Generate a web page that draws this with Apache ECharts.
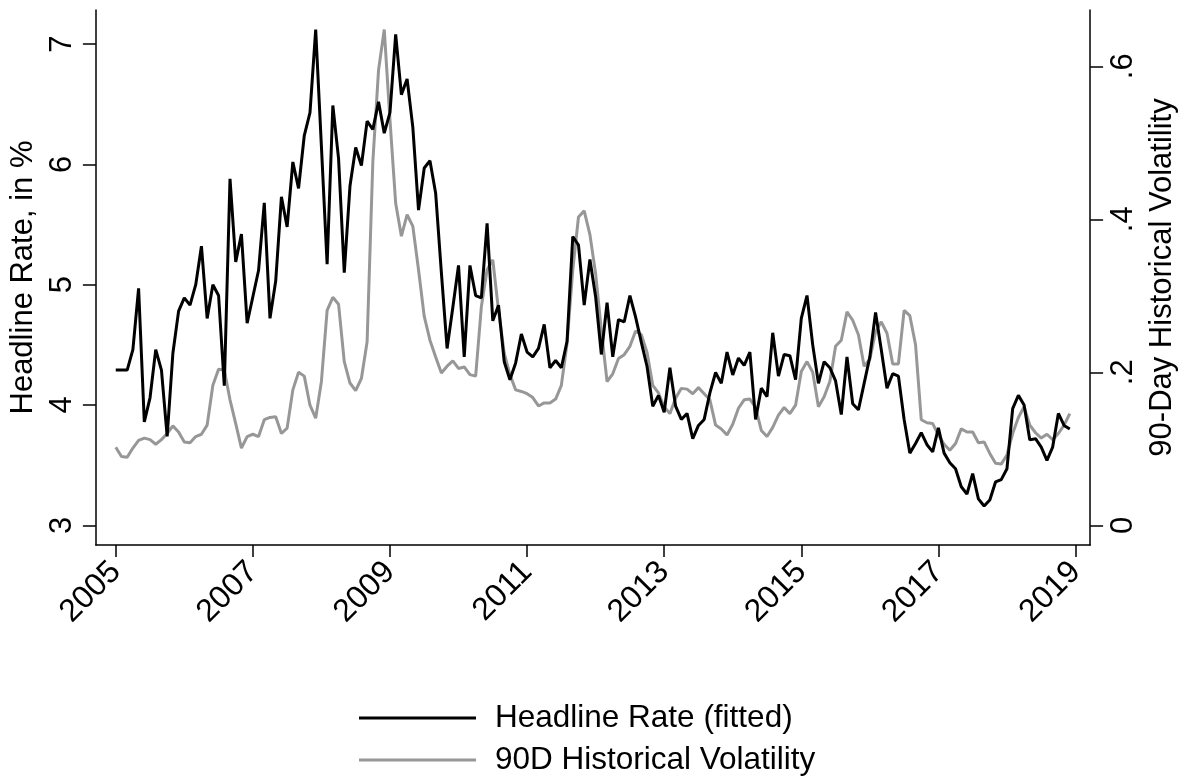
<!DOCTYPE html>
<html>
<head>
<meta charset="utf-8">
<script src="https://cdn.jsdelivr.net/npm/echarts@6/dist/echarts.min.js"></script>
<style>
html,body{margin:0;padding:0;background:#fff;}
#chart{width:1186px;height:777px;}
</style>
</head>
<body>
<div id="chart"></div>
<script>
// Monthly observations, Jan 2005 .. Dec 2018
var startYear = 2005;
var seriesNames = ['Headline Rate (fitted)', '90D Historical Volatility'];
var headlineRate = [
  4.29,4.29,4.29,4.46,4.97,3.86,4.06,4.46,4.29,3.74,4.43,4.78,
  4.89,4.83,5.00,5.32,4.72,5.00,4.91,4.16,5.88,5.19,5.42,4.68,
  4.90,5.12,5.68,4.72,5.03,5.73,5.48,6.02,5.80,6.24,6.43,7.12,
  6.15,5.17,6.49,6.05,5.10,5.82,6.14,5.99,6.36,6.29,6.52,6.26,
  6.43,7.08,6.58,6.71,6.31,5.62,5.97,6.03,5.76,5.10,4.47,4.81,
  5.16,4.40,5.16,4.91,4.89,5.51,4.70,4.83,4.36,4.21,4.35,4.59,
  4.44,4.40,4.47,4.67,4.31,4.37,4.31,4.53,5.40,5.33,4.83,5.21,
  4.90,4.42,4.85,4.40,4.71,4.69,4.91,4.73,4.52,4.32,3.99,4.08,
  3.94,4.31,3.99,3.88,3.93,3.72,3.83,3.88,4.10,4.27,4.18,4.44,
  4.25,4.39,4.33,4.44,3.88,4.14,4.07,4.60,4.24,4.42,4.41,4.21,
  4.72,4.91,4.50,4.18,4.36,4.31,4.20,3.92,4.40,4.01,3.96,4.18,
  4.40,4.77,4.46,4.14,4.26,4.24,3.88,3.60,3.68,3.77,3.67,3.61,
  3.81,3.60,3.52,3.47,3.32,3.26,3.43,3.22,3.16,3.21,3.36,3.38,
  3.47,3.97,4.08,4.00,3.71,3.72,3.65,3.54,3.65,3.93,3.83,3.80
];
var histVol90 = [
  0.102,0.090,0.089,0.101,0.111,0.114,0.112,0.106,0.112,0.120,0.130,0.122,
  0.109,0.108,0.116,0.119,0.131,0.183,0.204,0.203,0.164,0.133,0.101,0.116,
  0.119,0.116,0.138,0.141,0.142,0.120,0.127,0.177,0.200,0.195,0.157,0.140,
  0.188,0.281,0.298,0.289,0.214,0.186,0.176,0.192,0.240,0.475,0.595,0.648,
  0.530,0.421,0.378,0.406,0.391,0.334,0.273,0.242,0.220,0.199,0.208,0.215,
  0.205,0.207,0.197,0.195,0.286,0.334,0.347,0.281,0.225,0.197,0.177,0.175,
  0.172,0.167,0.156,0.160,0.160,0.165,0.183,0.238,0.334,0.403,0.411,0.380,
  0.329,0.255,0.188,0.198,0.218,0.223,0.234,0.254,0.249,0.226,0.183,0.173,
  0.155,0.146,0.166,0.179,0.178,0.172,0.180,0.172,0.164,0.131,0.126,0.118,
  0.132,0.153,0.164,0.165,0.154,0.124,0.116,0.128,0.144,0.154,0.146,0.157,
  0.201,0.214,0.200,0.155,0.168,0.188,0.234,0.242,0.279,0.268,0.249,0.208,
  0.217,0.253,0.266,0.251,0.211,0.211,0.281,0.274,0.236,0.138,0.134,0.133,
  0.118,0.106,0.098,0.107,0.126,0.122,0.122,0.108,0.109,0.094,0.081,0.080,
  0.092,0.120,0.141,0.155,0.131,0.121,0.114,0.119,0.112,0.120,0.131,0.146
];
var xTicks = [2005, 2007, 2009, 2011, 2013, 2015, 2017, 2019];
var leftTicks = [3, 4, 5, 6, 7];
var rightTicks = [0, 0.2, 0.4, 0.6];

function monthX(i) { return startYear + i / 12; }
var headData = headlineRate.map(function (v, i) { return [monthX(i), v]; });
var volData = histVol90.map(function (v, i) { return [monthX(i), v]; });

var FONT = "'Liberation Sans', Arial, Helvetica, sans-serif";
var axisLineStyle = { color: '#000', width: 1.5 };
var BLACK = '#000000';
var GRAY = '#979797';

function legendFor(name, top) {
  return {
    data: [name],
    orient: 'vertical',
    left: 359,
    top: top,
    padding: 0,
    icon: 'rect',
    itemWidth: 117,
    itemHeight: 3,
    itemGap: 0,
    selectedMode: false,
    textStyle: { fontFamily: FONT, fontSize: 31.5, color: '#000', lineHeight: 31, padding: [0, 0, 0, 14] }
  };
}

var chart = echarts.init(document.getElementById('chart'), null, { renderer: 'canvas' });
chart.setOption({
  animation: false,
  backgroundColor: '#fff',
  textStyle: { fontFamily: FONT },
  grid: { left: 95, right: 89, top: 10, bottom: 232, containLabel: false },
  legend: [legendFor(seriesNames[0], 702), legendFor(seriesNames[1], 744)],
  xAxis: {
    type: 'value',
    min: 2004.7105,
    max: 2019.2128,
    axisLine: { show: true, onZero: false, lineStyle: axisLineStyle },
    axisTick: { show: true, length: 12, lineStyle: axisLineStyle, customValues: xTicks },
    axisLabel: {
      customValues: xTicks,
      rotate: 45,
      margin: 22,
      fontSize: 32,
      color: '#000',
      fontFamily: FONT,
      formatter: function (v) { return String(Math.round(v)); }
    },
    splitLine: { show: false }
  },
  yAxis: [
    {
      type: 'value',
      position: 'left',
      min: 2.8362,
      max: 7.2835,
      name: 'Headline Rate, in %',
      nameLocation: 'middle',
      nameRotate: 90,
      nameGap: 52,
      nameTextStyle: { fontSize: 31, color: '#000', fontFamily: FONT },
      axisLine: { show: true, onZero: false, lineStyle: axisLineStyle },
      axisTick: { show: true, length: 13, lineStyle: axisLineStyle, customValues: leftTicks },
      axisLabel: {
        customValues: leftTicks,
        rotate: 90,
        margin: 18,
        fontSize: 31,
        color: '#000',
        fontFamily: FONT,
        formatter: function (v) { return String(v); }
      },
      splitLine: { show: false }
    },
    {
      type: 'value',
      position: 'right',
      min: -0.02575,
      max: 0.6736,
      name: '90-Day Historical Volatility',
      nameLocation: 'middle',
      nameRotate: 90,
      nameGap: 53,
      nameTextStyle: { fontSize: 31, color: '#000', fontFamily: FONT },
      axisLine: { show: true, onZero: false, lineStyle: axisLineStyle },
      axisTick: { show: true, length: 13, lineStyle: axisLineStyle, customValues: rightTicks },
      axisLabel: {
        customValues: rightTicks,
        rotate: 90,
        margin: 18,
        fontSize: 31,
        color: '#000',
        fontFamily: FONT,
        formatter: function (v) {
          if (Math.abs(v) < 1e-9) return '0';
          return String(Math.round(v * 10) / 10).replace(/^0/, '');
        }
      },
      splitLine: { show: false }
    }
  ],
  series: [
    {
      name: seriesNames[0],
      type: 'line',
      yAxisIndex: 0,
      data: headData,
      symbol: 'none',
      showSymbol: false,
      itemStyle: { color: BLACK },
      lineStyle: { color: BLACK, width: 3 },
      z: 3
    },
    {
      name: seriesNames[1],
      type: 'line',
      yAxisIndex: 1,
      data: volData,
      symbol: 'none',
      showSymbol: false,
      itemStyle: { color: GRAY },
      lineStyle: { color: GRAY, width: 3 },
      z: 2
    }
  ]
});
</script>
</body>
</html>
